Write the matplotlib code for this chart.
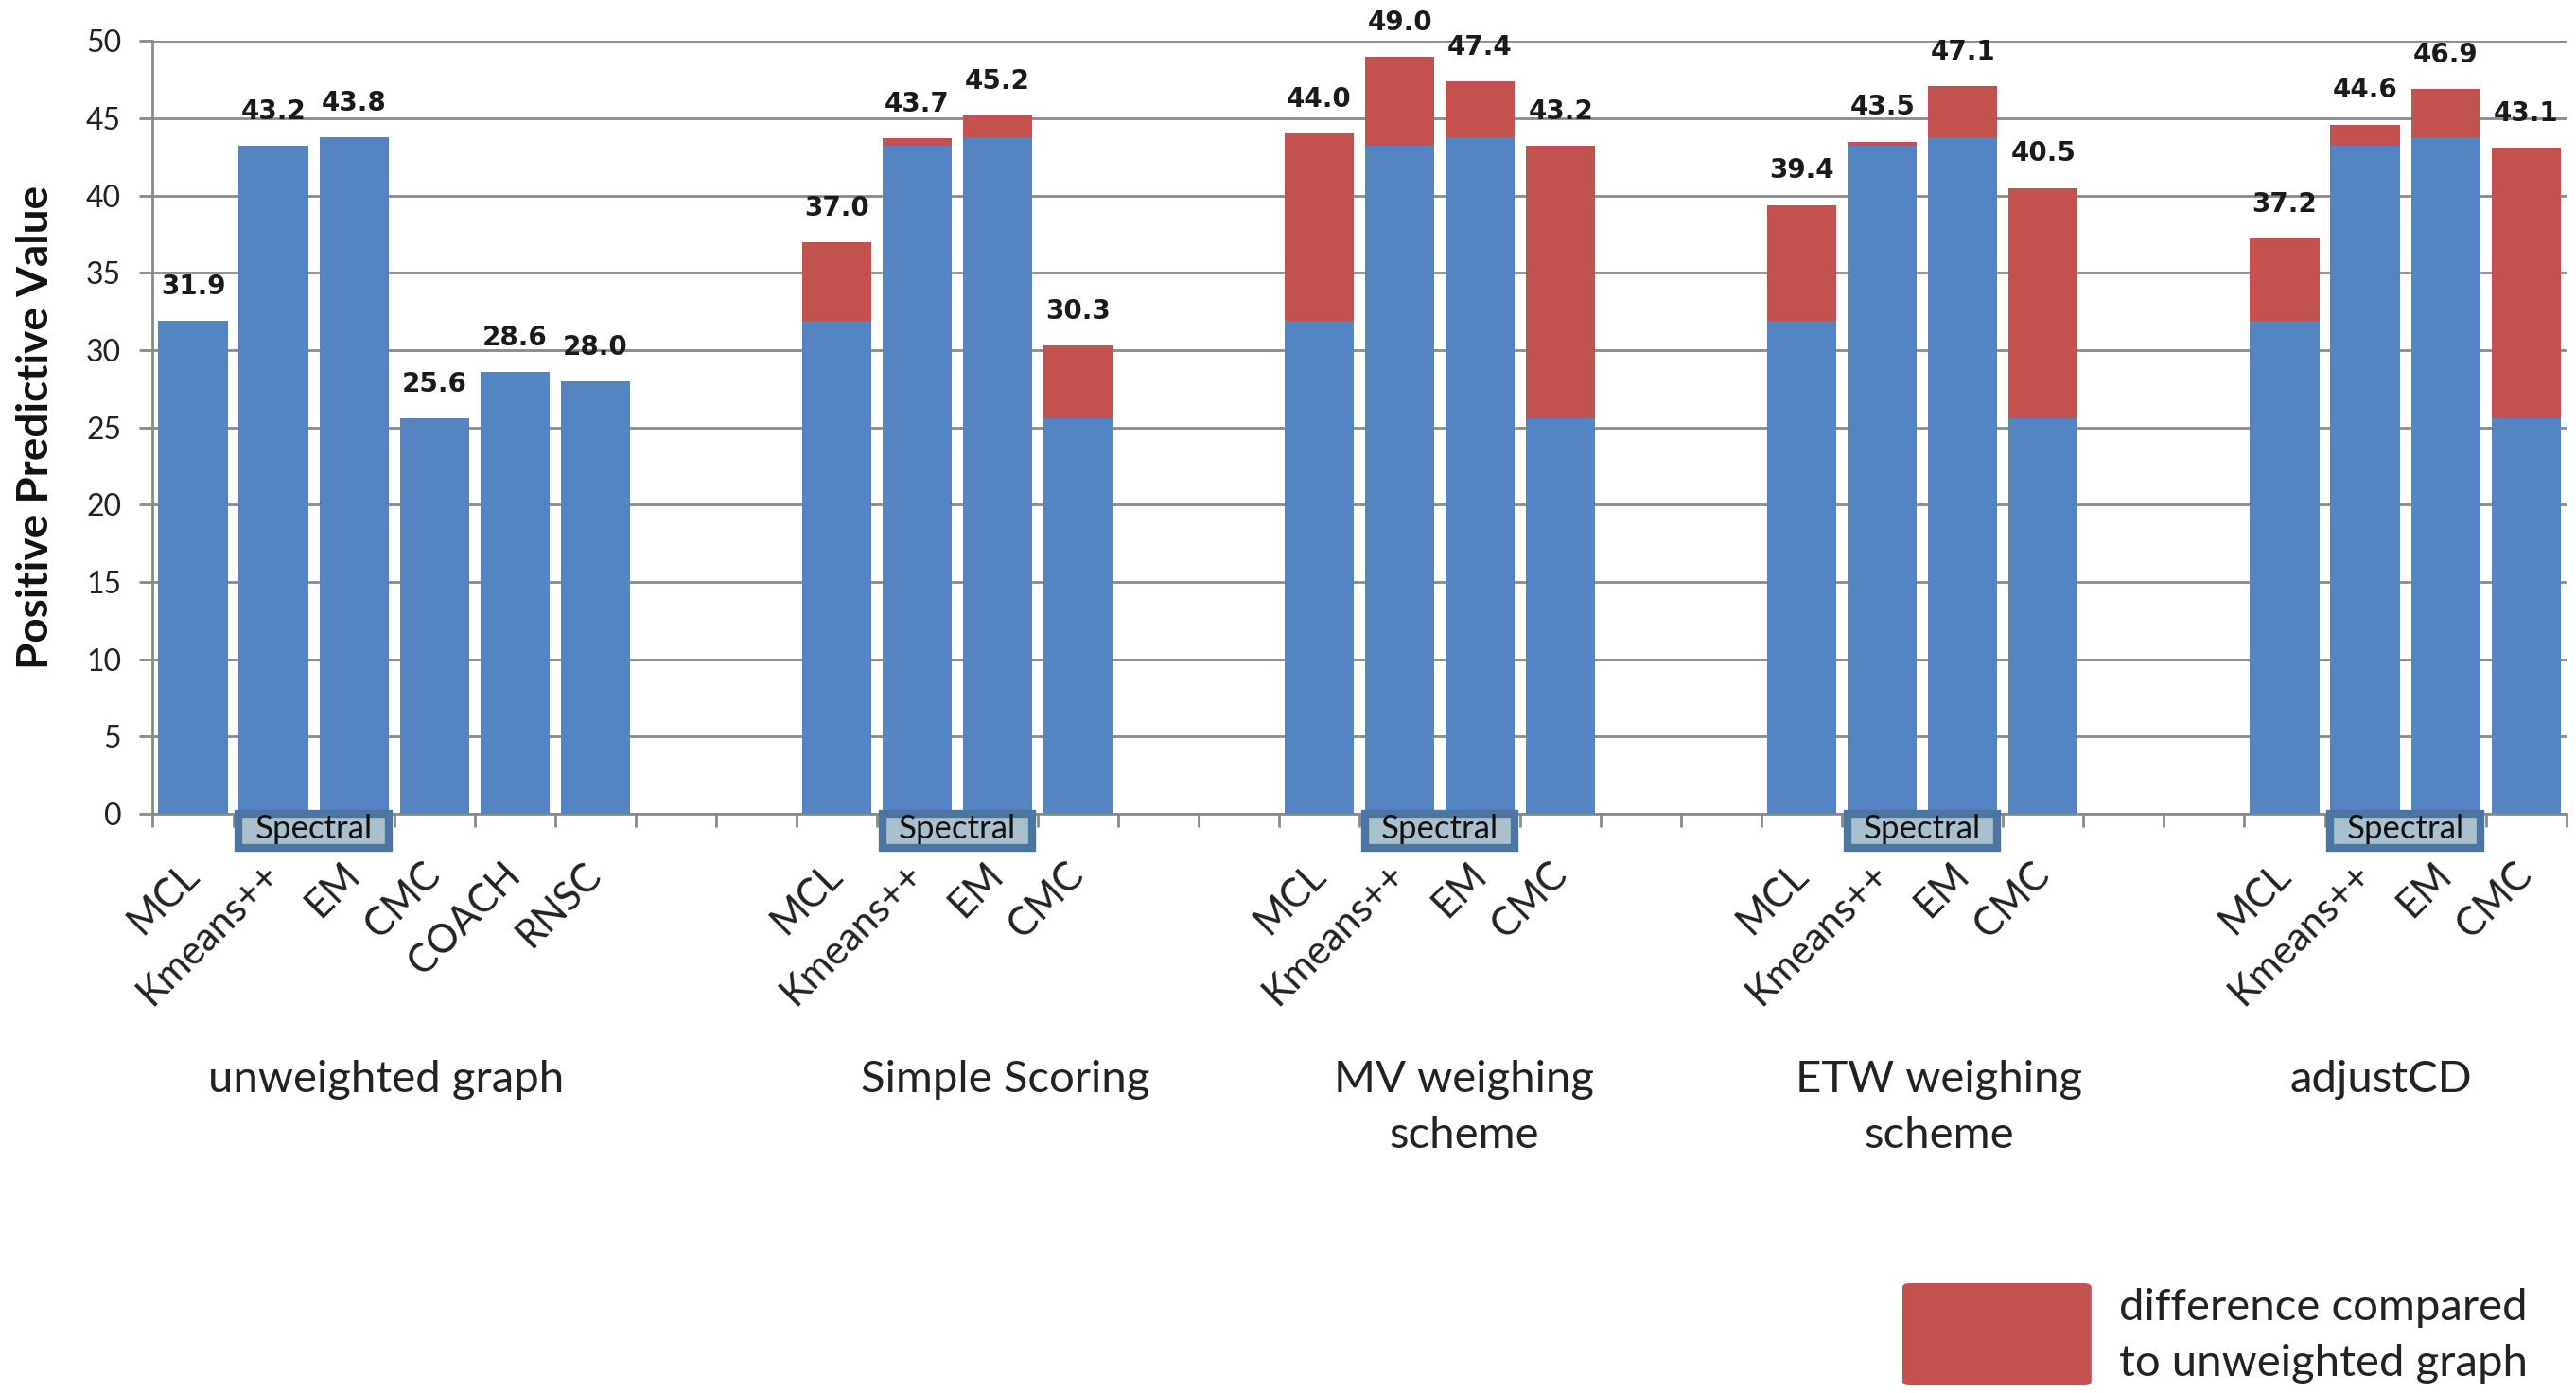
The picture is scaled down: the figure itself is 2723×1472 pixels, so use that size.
import numpy as np
import matplotlib.pyplot as plt
from matplotlib.patches import Rectangle, FancyBboxPatch
from matplotlib.transforms import blended_transform_factory, ScaledTranslation

# PPV of each clustering method on the unweighted graph
methods_unweighted = ['MCL', 'Kmeans++', 'EM', 'CMC', 'COACH', 'RNSC']
ppv_unweighted = [31.9, 43.2, 43.8, 25.6, 28.6, 28.0]

# PPV after each weighting scheme (MCL, Kmeans++, EM, CMC)
methods_weighted = ['MCL', 'Kmeans++', 'EM', 'CMC']
ppv_simple = [37.0, 43.7, 45.2, 30.3]
ppv_mv = [44.0, 49.0, 47.4, 43.2]
ppv_etw = [39.4, 43.5, 47.1, 40.5]
ppv_adjust = [37.2, 44.6, 46.9, 43.1]

group_names = ['unweighted graph', 'Simple Scoring', 'MV weighing\nscheme',
               'ETW weighing\nscheme', 'adjustCD']
legend_text = 'difference compared\nto unweighted graph'

blue = '#5584c3'
red = '#c3514e'
label_font = 'Lato'

group_start = [0, 8, 14, 20, 26]
group_label_x = [2.4, 10.1, 15.8, 21.7, 27.2]
bar_w = 0.86

fig = plt.figure(figsize=(27.23, 14.72), dpi=100)
ax = fig.add_axes([0.0593, 0.4158, 0.9369, 0.5547])

# unweighted group: plain blue bars
x0 = np.arange(len(ppv_unweighted)) + group_start[0]
ax.bar(x0, ppv_unweighted, width=bar_w, color=blue, zorder=3)
positions = list(x0)
names = list(methods_unweighted)
totals = list(ppv_unweighted)

# weighted groups: unweighted base in blue, gain stacked in red
base = np.array(ppv_unweighted[:4])
for start, vals in zip(group_start[1:], [ppv_simple, ppv_mv, ppv_etw, ppv_adjust]):
    xs = np.arange(4) + start
    vals = np.array(vals)
    ax.bar(xs, base, width=bar_w, color=blue, zorder=3)
    ax.bar(xs, vals - base, bottom=base, width=bar_w, color=red, zorder=3)
    positions += list(xs)
    names += methods_weighted
    totals += list(vals)

for x, v in zip(positions, totals):
    ax.annotate(f'{v:.1f}', (x, v), xytext=(0, 26), textcoords='offset points',
                ha='center', va='center', fontsize=20, fontweight='bold',
                family='DejaVu Sans', color='#1a1a1a', annotation_clip=False)

ax.set_xlim(-0.5, 29.5)
ax.set_ylim(0, 50)
ax.set_yticks(np.arange(0, 51, 5))
ax.grid(axis='y', color='#8a8a8a', linewidth=2, zorder=0)
for s in ['top', 'right']:
    ax.spines[s].set_visible(False)
for s in ['left', 'bottom']:
    ax.spines[s].set_color('#8a8a8a')
    ax.spines[s].set_linewidth(2)

# tick marks between categories, labels under the bars
ax.set_xticks(np.arange(-0.5, 30, 1.0))
ax.set_xticklabels([])
ax.set_xticks(positions, minor=True)
ax.set_xticklabels(names, minor=True, rotation=45, ha='right', va='center',
                   rotation_mode='anchor', fontsize=30, family=label_font,
                   color='#222222')
shift = ScaledTranslation(0.22, 0, fig.dpi_scale_trans)
for t in ax.xaxis.get_minorticklabels():
    t.set_transform(t.get_transform() + shift)
ax.tick_params(axis='x', which='major', length=10, width=2, color='#8a8a8a')
ax.tick_params(axis='x', which='minor', length=0, pad=42)
ax.tick_params(axis='y', length=10, width=2, color='#8a8a8a', pad=14,
               labelsize=23, labelcolor='#222222')
for t in ax.get_yticklabels():
    t.set_family(label_font)

# "Spectral" brackets under Kmeans++ and EM
trans = blended_transform_factory(ax.transData, ax.transAxes)
for start in group_start:
    left = start + 1 - bar_w / 2
    width = 1 + bar_w
    ax.add_patch(Rectangle((left, -0.044), width, 0.044, transform=trans,
                           facecolor='#a9c0cf', edgecolor='#4c76a2',
                           linewidth=6, clip_on=False, zorder=4))
    ax.text(start + 1.5, -0.02, 'Spectral', transform=trans, ha='center',
            va='center', fontsize=25, family=label_font, color='#111111',
            zorder=5)

# group names
gtrans = blended_transform_factory(ax.transData, fig.transFigure)
for gx, name in zip(group_label_x, group_names):
    ax.text(gx, 0.239, name, transform=gtrans, ha='center', va='top',
            fontsize=34, family=label_font, color='#222222',
            linespacing=1.5)

fig.text(0.014, 0.6936, 'Positive Predictive Value', rotation=90,
         ha='center', va='center', fontsize=33, fontweight='bold',
         family=label_font, color='#111111')

# legend for the red segments
fig.add_artist(FancyBboxPatch((0.7385, 0.0054), 0.0734, 0.0734,
                              boxstyle='round,pad=0,rounding_size=0.003',
                              transform=fig.transFigure, facecolor=red,
                              edgecolor='none'))
fig.text(0.8227, 0.0755, legend_text, ha='left', va='top', fontsize=34,
         family=label_font, color='#222222', linespacing=1.5)

fig.savefig('out.png', dpi=100, facecolor='white')
